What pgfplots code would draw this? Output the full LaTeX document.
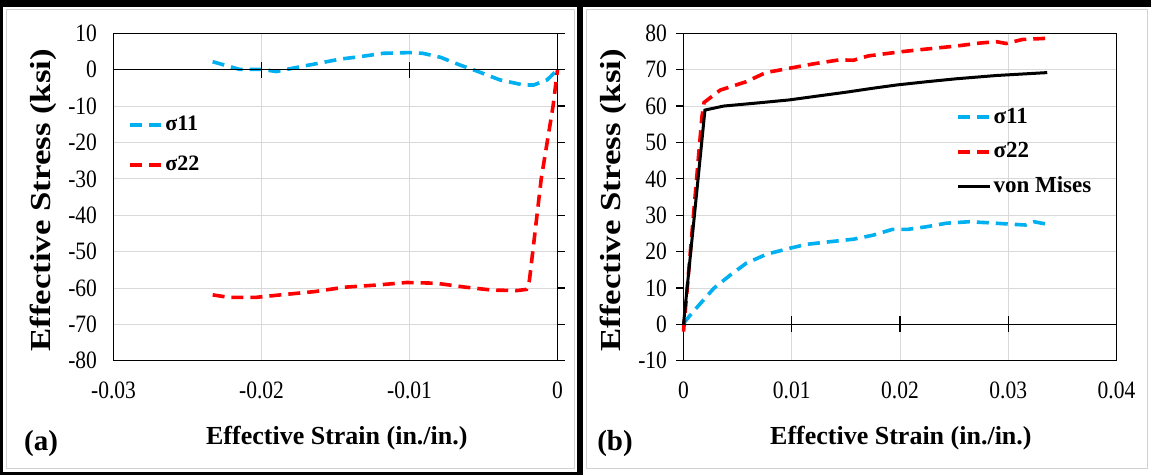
\documentclass[border=0pt]{standalone}
\usepackage{pgfplots}
\pgfplotsset{compat=1.18}
\usepackage{fontspec}
\setmainfont{Liberation Serif}
\usepackage{graphicx}
\definecolor{cyanS}{RGB}{0,176,240}
\definecolor{redS}{RGB}{255,0,0}
\definecolor{gridc}{RGB}{217,217,217}
\newcommand\sq[1]{\scalebox{0.86}[1]{\fontsize{25bp}{29bp}\selectfont #1}}
\tikzset{tk/.style={black, line width=1.3bp}}
\pgfplotsset{
  panel/.style={
    scale only axis, height=327.4bp,
    axis line style={black, line width=1.3bp},
    grid=major, grid style={gridc, line width=0.8bp},
    major tick length=0pt,
    clip=false,
    scaled x ticks=false, scaled y ticks=false,
    tick label style={font=\fontsize{25bp}{29bp}\selectfont},
    xticklabel style={yshift=-18bp},
    yticklabel style={xshift=-13bp},
    xlabel style={font=\fontsize{26bp}{30bp}\selectfont\bfseries},
    ylabel style={font=\fontsize{29bp}{33bp}\selectfont\bfseries},
    legend cell align=left,
    legend image code/.code={\draw[#1] (0bp,0bp) -- (32bp,0bp);},
  },
  s11/.style={color=cyanS, line width=3.6bp, dash pattern=on 12bp off 7bp},
  s22/.style={color=redS, line width=3.6bp, dash pattern=on 12bp off 7bp},
  vm/.style={color=black, line width=3bp},
}
\begin{document}
\begin{tikzpicture}
\fill[black] (0bp,0bp) rectangle (1151bp,475bp);
\fill[white] (3bp,3bp) rectangle (577bp,468bp);
\fill[white] (583bp,0bp) rectangle (1151bp,468bp);
\draw[gray!35, line width=1bp] (6bp,6bp) rectangle (574bp,465bp);
\draw[gray!35, line width=1bp] (586bp,6bp) rectangle (1147bp,465bp);
\node[font=\fontsize{29bp}{33bp}\selectfont\bfseries] at (41bp,31bp) {(a)};
\node[font=\fontsize{29bp}{33bp}\selectfont\bfseries] at (615bp,31bp) {(b)};

% ---------- panel (a)
\begin{axis}[panel, width=444bp,
  at={(113.5bp,114.3bp)}, anchor=south west,
  xmin=-0.03, xmax=0, ymin=-80, ymax=10,
  xtick={-0.03,-0.02,-0.01,0},
  xticklabels={\sq{-0.03},\sq{-0.02},\sq{-0.01},\sq{0}},
  ytick={-80,-70,-60,-50,-40,-30,-20,-10,0,10},
  yticklabels={\sq{-80},\sq{-70},\sq{-60},\sq{-50},\sq{-40},\sq{-30},\sq{-20},\sq{-10},\sq{0},\sq{10}},
  xlabel={Effective Strain (in./in.)},
  ylabel={\scalebox{1.2}[1]{Effective Stress (ksi)}},
  xlabel style={at={(axis description cs:0.503,-0.237)}, anchor=center},
  ylabel style={at={(axis description cs:-0.158,0.49)}, anchor=center},
  legend style={draw=none, fill=none, at={(axis description cs:0.033,0.755)}, anchor=north west,
    font=\fontsize{22bp}{26bp}\selectfont\bfseries, row sep=18bp, inner sep=0bp,
    nodes={inner sep=1.5bp, text height=15bp, text depth=4bp}},
]
\addplot[s11] coordinates {(-0.0233,2.2) (-0.0215,0.1) (-0.0200,0.1) (-0.0190,-0.5) (-0.0174,0.8) (-0.0161,1.8) (-0.0147,2.9) (-0.0133,3.6) (-0.0118,4.5) (-0.0100,4.7) (-0.0091,4.5) (-0.0079,3.4) (-0.0066,1.3) (-0.0055,-0.3) (-0.0039,-2.8) (-0.0023,-4.2) (-0.0016,-4.2) (-0.0007,-2.8) (0,0)};
\addlegendentry{σ11}
\addplot[s22] coordinates {(-0.0233,-61.9) (-0.0222,-62.6) (-0.0204,-62.6) (-0.0187,-61.9) (-0.0164,-61.0) (-0.0144,-59.8) (-0.0122,-59.2) (-0.0102,-58.5) (-0.0082,-58.7) (-0.0062,-59.8) (-0.0044,-60.6) (-0.0027,-60.7) (-0.0021,-60.4) (-0.0019,-58) (-0.0011,-30) (-0.0003,-10) (0,0)};
\addlegendentry{σ22}
\draw[tk] (axis cs:-0.03,0) -- (axis cs:0,0);
\pgfplotsinvokeforeach{-0.02,-0.01}{\draw[tk] ([yshift=-8bp]axis cs:#1,0) -- ([yshift=8bp]axis cs:#1,0);}
\pgfplotsinvokeforeach{-80,-70,-60,-50,-40,-30,-20,-10,0,10}{\draw[tk] (axis cs:0,#1) -- ([xshift=7.5bp]axis cs:0,#1);}
\end{axis}

% ---------- panel (b)
\begin{axis}[panel, width=433bp,
  at={(683.5bp,114.3bp)}, anchor=south west,
  xmin=0, xmax=0.04, ymin=-10, ymax=80,
  xtick={0,0.01,0.02,0.03,0.04},
  xticklabels={\sq{0},\sq{0.01},\sq{0.02},\sq{0.03},\sq{0.04}},
  ytick={-10,0,10,20,30,40,50,60,70,80},
  yticklabels={\sq{-10},\sq{0},\sq{10},\sq{20},\sq{30},\sq{40},\sq{50},\sq{60},\sq{70},\sq{80}},
  xlabel={Effective Strain (in./in.)},
  ylabel={\scalebox{1.2}[1]{Effective Stress (ksi)}},
  xlabel style={at={(axis description cs:0.502,-0.237)}, anchor=center},
  ylabel style={at={(axis description cs:-0.162,0.49)}, anchor=center},
  legend style={draw=none, fill=none, at={(axis description cs:0.63,0.78)}, anchor=north west,
    font=\fontsize{23bp}{27bp}\selectfont\bfseries, row sep=11bp, inner sep=0bp,
    nodes={inner sep=1.5bp, text height=16bp, text depth=4.5bp}},
]
\addplot[s11] coordinates {(0,0.3) (0.0009,3.5) (0.0017,6.2) (0.0028,9.9) (0.0043,13.5) (0.0058,16.8) (0.0077,19.3) (0.0098,20.9) (0.0114,22.0) (0.0135,22.7) (0.0157,23.4) (0.0175,24.5) (0.0193,26.1) (0.0207,26.1) (0.0224,26.8) (0.0243,27.8) (0.0264,28.2) (0.0283,27.9) (0.0304,27.5) (0.0316,27.3) (0.0324,28.2) (0.0336,27.5)};
\addlegendentry{σ11}
\addplot[s22] coordinates {(0,-2) (0.0017,57) (0.0019,61) (0.0034,64.4) (0.0058,66.7) (0.0076,69.2) (0.0098,70.4) (0.0120,71.6) (0.0144,72.7) (0.0157,72.6) (0.0171,73.8) (0.0200,74.9) (0.0222,75.6) (0.0252,76.5) (0.0273,77.3) (0.0289,77.7) (0.0298,77.2) (0.0313,78.3) (0.0334,78.6)};
\addlegendentry{σ22}
\addplot[vm] coordinates {(0,0) (0.00198,58.9) (0.0037,60.0) (0.0070,60.9) (0.0098,61.7) (0.0125,62.8) (0.0150,63.8) (0.0175,64.9) (0.0197,65.8) (0.0225,66.7) (0.0252,67.5) (0.0289,68.4) (0.0336,69.2)};
\addlegendentry{von Mises}
\draw[tk] (axis cs:0,0) -- (axis cs:0.04,0);
\pgfplotsinvokeforeach{0.01,0.02,0.03}{\draw[tk] ([yshift=-8bp]axis cs:#1,0) -- ([yshift=8bp]axis cs:#1,0);}
\pgfplotsinvokeforeach{-10,0,10,20,30,40,50,60,70,80}{\draw[tk] (axis cs:0,#1) -- ([xshift=-8bp]axis cs:0,#1);}
\end{axis}
\pgfresetboundingbox
\useasboundingbox (0bp,0bp) rectangle (1151bp,475bp);
\end{tikzpicture}
\end{document}
